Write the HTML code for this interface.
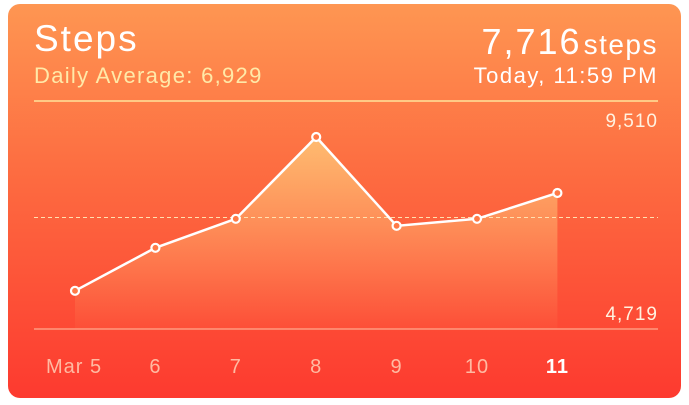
<!DOCTYPE html>
<html><head><meta charset="utf-8"><style>
html,body{margin:0;padding:0;background:#fff;width:689px;height:405px;overflow:hidden}
#card{position:absolute;left:8px;top:4px;width:673px;height:394px;border-radius:12px;background:linear-gradient(#fe9652,#fd6a40 45%,#fd3a2f);overflow:hidden}
svg{position:absolute;left:0;top:0}
text{font-family:"Liberation Sans",sans-serif}
</style></head><body>
<div id="card"></div>
<svg width="689" height="405">
<defs><linearGradient id="fill" x1="0" y1="0" x2="0" y2="1">
<stop offset="0" stop-color="#ffc878" stop-opacity="0.85"/>
<stop offset="1" stop-color="#ffb070" stop-opacity="0.05"/></linearGradient></defs>
<text x="34" y="51" font-size="37" letter-spacing="2" fill="#fff">Steps</text>
<text x="34" y="83" font-size="22" letter-spacing="1.3" fill="#ffe9a8">Daily Average: 6,929</text>
<text x="658" y="54" text-anchor="end" fill="#fff"><tspan font-size="36" letter-spacing="2">7,716</tspan><tspan font-size="28" letter-spacing="1.5" dx="2">steps</tspan></text>
<text x="658" y="83" font-size="22" letter-spacing="1.5" fill="#fff" text-anchor="end">Today, 11:59 PM</text>
<line x1="34" y1="101" x2="658" y2="101" stroke="#ffe49a" stroke-width="1.5"/>
<line x1="34" y1="329" x2="658" y2="329" stroke="#ff9a80" stroke-width="1.5"/>
<text x="658" y="127" font-size="19" letter-spacing="1" fill="#fff2e0" text-anchor="end">9,510</text>
<text x="658" y="320" font-size="19" letter-spacing="1" fill="#fff2e0" text-anchor="end">4,719</text>
<g id="plot"></g>
</svg>
<script>
const categories=["Mar 5","6","7","8","9","10","11"];
const steps=[4580,5958,6888,9510,6663,6888,7716];
const average=[6929];
const xPos=i=>75+i*80.4;
const yPos=v=>137+(9510-v)*0.0312;
const ns="http://www.w3.org/2000/svg";
const g=document.getElementById('plot');
function mk(t,a){const e=document.createElementNS(ns,t);for(const k in a)e.setAttribute(k,a[k]);g.appendChild(e);return e;}
let pts=steps.map((v,i)=>xPos(i)+","+yPos(v)).join(" ");
let area=mk('polygon',{points:xPos(0)+",329 "+pts+" "+xPos(steps.length-1)+",329",fill:"url(#fill)"});


let av=mk('line',{x1:34,x2:658,y1:yPos(average[0]),y2:yPos(average[0]),stroke:"#ffe0b0","stroke-width":1,"stroke-dasharray":"4,3"});


let ln=mk('polyline',{points:pts,fill:"none",stroke:"#fff","stroke-width":2.5});


steps.forEach((v,i)=>{
 let c=mk('circle',{cx:xPos(i),cy:yPos(v),r:4,fill:"#ff7a48",stroke:"#fff","stroke-width":2.2});
 
 
 let t=mk('text',{x:xPos(i)+(i==0?-1:0),y:373,"font-size":20,"letter-spacing":1,"text-anchor":"middle",fill:i==steps.length-1?"#fff":"#ffbaa2","font-weight":i==steps.length-1?"bold":"normal"});
 t.textContent=categories[i];
 
 
});
</script>
</body></html>
